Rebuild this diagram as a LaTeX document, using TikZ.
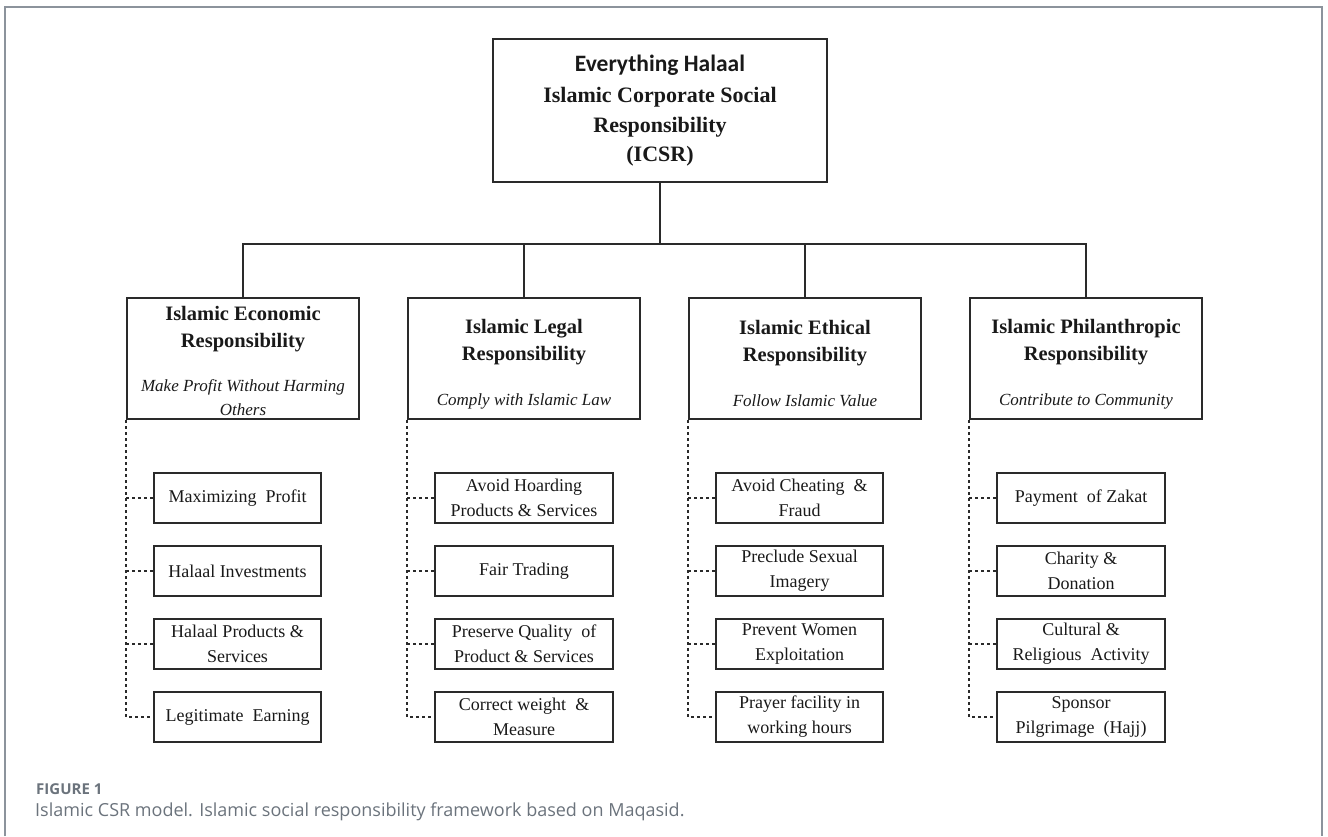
\documentclass[tikz,border=0pt]{standalone}
\usepackage{fontspec}
\setmainfont{Liberation Serif}
\newfontfamily\calfont{Carlito}
\newfontfamily\capfont{Open Sans}
\usepackage{tikz}
\usetikzlibrary{positioning}

\definecolor{boxline}{HTML}{2A2A2A}
\definecolor{framegray}{HTML}{8C939C}
\definecolor{capgray}{HTML}{6B737C}

\tikzset{
  mainbox/.style={draw=boxline, line width=2pt, minimum width=334pt, minimum height=143pt,
    align=center, text=black!90, font=\fontsize{22}{29.5}\selectfont\bfseries},
  pillar/.style={draw=boxline, line width=2pt, minimum width=232pt, minimum height=121pt,
    align=center, inner sep=2pt, text=black!90, font=\fontsize{20.5}{27}\selectfont\bfseries},
  leaf/.style={draw=boxline, line width=2pt, minimum height=50pt, align=center,
    inner sep=2pt, text=black!90, font=\fontsize{18}{25}\selectfont},
  link/.style={draw=boxline, line width=2pt},
  sublink/.style={draw=boxline, line width=2pt, dash pattern=on 3pt off 3pt},
}
\newcommand{\motto}{\normalfont\itshape\fontsize{17}{24}\selectfont}
\newcommand{\lift}[1]{\rule{0pt}{#1}}

\begin{document}
\begin{tikzpicture}[x=1pt, y=-1pt]
  \useasboundingbox (0,0) rectangle (1328,836);
  % cornice
  \draw[framegray, line width=1.5pt] (5,836) -- (5,7) -- (1322,7) -- (1322,836);

  % radice
  \node[mainbox] (top) at (660,110.5) {{\calfont\fontsize{23.5}{28}\selectfont Everything Halaal}\\[2pt]
    Islamic Corporate Social\\ Responsibility\\ (ICSR)};

  % pilastri
  \node[pillar] (econ) at (243,358.5) {\lift{20pt}Islamic Economic\\ Responsibility\\[17pt]
    {\motto Make Profit Without Harming}\\[-3pt] {\motto Others}};
  \node[pillar, right=47pt of econ] (legal) {\lift{25pt}Islamic Legal\\ Responsibility\\[18pt]
    {\motto Comply with Islamic Law}};
  \node[pillar, right=47pt of legal] (ethic) {\lift{25pt}Islamic Ethical\\ Responsibility\\[18pt]
    {\motto Follow Islamic Value}};
  \node[pillar, right=47pt of ethic] (phil) {\lift{25pt}Islamic Philanthropic\\ Responsibility\\[18pt]
    {\motto Contribute to Community}};

  \foreach \b in {econ,legal,ethic,phil}
    \draw[link] (top.south) -- ++(0,61) -| (\b.north);

  % foglie
  \node[leaf, minimum width=167pt, below right=52pt and 27pt of econ.south west] (e1) {Maximizing\ \ Profit};
  \node[leaf, minimum width=167pt, below=21pt of e1] (e2) {Halaal Investments};
  \node[leaf, minimum width=167pt, below=21pt of e2] (e3) {Halaal Products \&\\ Services};
  \node[leaf, minimum width=167pt, below=21pt of e3] (e4) {Legitimate\ \ Earning};

  \node[leaf, minimum width=178pt, below right=52pt and 27pt of legal.south west] (l1) {Avoid Hoarding\\ Products \& Services};
  \node[leaf, minimum width=178pt, below=21pt of l1] (l2) {Fair Trading};
  \node[leaf, minimum width=178pt, below=21pt of l2] (l3) {Preserve Quality\ \ of\\ Product \& Services};
  \node[leaf, minimum width=178pt, below=21pt of l3] (l4) {Correct weight\ \ \&\\ Measure};

  \node[leaf, minimum width=167pt, below right=52pt and 27pt of ethic.south west] (t1) {Avoid Cheating\ \ \&\\ Fraud};
  \node[leaf, minimum width=167pt, below=21pt of t1] (t2) {Preclude Sexual\\ Imagery};
  \node[leaf, minimum width=167pt, below=21pt of t2] (t3) {Prevent Women\\ Exploitation};
  \node[leaf, minimum width=167pt, below=21pt of t3] (t4) {Prayer facility in\\ working hours};

  \node[leaf, minimum width=168pt, below right=52pt and 27pt of phil.south west] (p1) {Payment\ \ of Zakat};
  \node[leaf, minimum width=168pt, below=21pt of p1] (p2) {Charity \&\\ Donation};
  \node[leaf, minimum width=168pt, below=21pt of p2] (p3) {Cultural \&\\ Religious\ \ Activity};
  \node[leaf, minimum width=168pt, below=21pt of p3] (p4) {Sponsor\\ Pilgrimage\ \ (Hajj)};

  \foreach \b/\c in {econ/e,legal/l,ethic/t,phil/p} {
    \draw[sublink] (\b.south west) |- (\c4.west);
    \foreach \i in {1,2,3}
      \draw[sublink] (\b.south west |- \c\i.west) -- (\c\i.west);
  }

  % didascalia
  \node[anchor=west, inner sep=0pt, text=capgray, font=\capfont\bfseries\fontsize{15}{17}\selectfont] (fig) at (36,789) {FIGURE 1};
  \node[anchor=west, inner sep=0pt, text=capgray, font=\capfont\fontsize{18}{21}\selectfont] (capt) at (35,812)
    {Islamic CSR model. Islamic social responsibility framework based on Maqasid.};
\end{tikzpicture}
\end{document}
